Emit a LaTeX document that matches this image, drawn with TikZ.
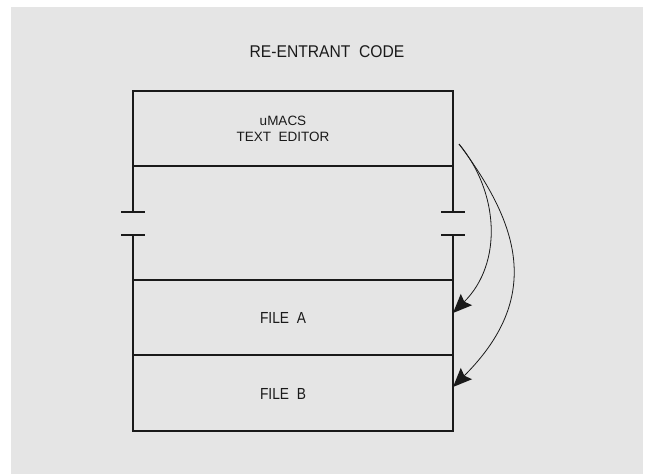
\documentclass[tikz,border=0pt]{standalone}
\usepackage{fontspec}
\setmainfont{Liberation Sans}
\newfontfamily\titlefont[FakeStretch=0.92]{Liberation Sans}
\newfontfamily\filefont[FakeStretch=0.86]{Liberation Sans}
\usetikzlibrary{arrows.meta}
\definecolor{bggray}{HTML}{E5E5E5}
\definecolor{ink}{HTML}{1A1A1A}
\tikzset{
  rowbox/.style={draw=ink, line width=1.1pt, minimum width=320pt, inner sep=0pt, outer sep=0pt, anchor=north west},
  lbl/.style={inner sep=0pt, text=ink},
  wall/.style={draw=ink, line width=1.1pt},
  callarrow/.style={draw=ink, line width=0.8pt, -{Stealth[length=19pt,width=16pt,inset=3pt,line width=0pt]}}
}
\begin{document}
\begin{tikzpicture}[x=1pt,y=-1pt]
\useasboundingbox (0,0) rectangle (649,474);
\fill[white] (0,0) rectangle (649,474);
\fill[bggray] (11,7) rectangle (643,474);
% title
\node[lbl, font=\titlefont\fontsize{17}{19}\selectfont] (title) at (327,52) {RE-ENTRANT\ \ CODE};
% boxes
\node[rowbox, minimum height=75pt] (editor) at (133,91) {};
\node[rowbox, minimum height=75pt] (filea) at (133,280) {};
\node[rowbox, minimum height=76pt] (fileb) at (133,355) {};
% middle section with breaks
\coordinate (lt) at (133,212);
\coordinate (lb) at (133,235);
\coordinate (rt) at (453,212);
\coordinate (rb) at (453,235);
\draw[wall] (editor.south west) -- (lt);
\draw[wall] (lb) -- (filea.north west);
\draw[wall] (editor.south east) -- (rt);
\draw[wall] (rb) -- (filea.north east);
\draw[wall] ([xshift=-12pt]lt) -- ([xshift=12pt]lt);
\draw[wall] ([xshift=-12pt]lb) -- ([xshift=12pt]lb);
\draw[wall] ([xshift=-12pt]rt) -- ([xshift=12pt]rt);
\draw[wall] ([xshift=-12pt]rb) -- ([xshift=12pt]rb);
% texts
\node[lbl, font=\fontsize{13.5}{15.5}\selectfont, align=center] (edtext) at (283,129) {uMACS\\TEXT\ \ EDITOR};
\node[lbl, font=\filefont\fontsize{16}{18}\selectfont] (fatext) at (283,317.5) {FILE\ \ A};
\node[lbl, font=\filefont\fontsize{16}{18}\selectfont] (fbtext) at (283,393.5) {FILE\ \ B};
% arrows
\coordinate (src) at (459,144);
\coordinate (tipa) at (453,313);
\coordinate (tipb) at (453,387);
\draw[callarrow] (src) .. controls (499,192) and (503,263) .. (tipa);
\draw[callarrow] (src) .. controls (519,224) and (543,297) .. (tipb);
\end{tikzpicture}
\end{document}
